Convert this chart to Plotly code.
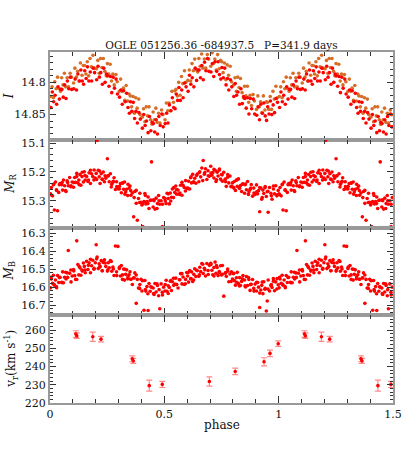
import plotly.graph_objects as go
from plotly.subplots import make_subplots

# ---------------------------------------------------------------- data
# OGLE I-band, two data sets (orange / red)
i1_phase = [
    0.003, 0.009, 0.015, 0.021, 0.027, 0.033, 0.040, 0.046,
    0.051, 0.057, 0.063, 0.069, 0.075, 0.081, 0.088, 0.094,
    0.103, 0.109, 0.115, 0.121, 0.127, 0.133, 0.140, 0.146,
    0.151, 0.157, 0.163, 0.169, 0.175, 0.181, 0.188, 0.194,
    0.203, 0.209, 0.215, 0.221, 0.227, 0.233, 0.240, 0.246,
    0.251, 0.257, 0.263, 0.269, 0.275, 0.281, 0.288, 0.294,
    0.303, 0.309, 0.315, 0.321, 0.327, 0.333, 0.340, 0.346,
    0.351, 0.357, 0.363, 0.369, 0.375, 0.381, 0.388, 0.394,
    0.403, 0.409, 0.415, 0.421, 0.427, 0.433, 0.440, 0.446,
    0.451, 0.457, 0.463, 0.469, 0.475, 0.481, 0.488, 0.494,
    0.503, 0.509, 0.515, 0.521, 0.527, 0.533, 0.540, 0.546,
    0.551, 0.557, 0.563, 0.569, 0.575, 0.581, 0.588, 0.594,
    0.603, 0.609, 0.615, 0.621, 0.627, 0.633, 0.640, 0.646,
    0.651, 0.657, 0.663, 0.669, 0.675, 0.681, 0.688, 0.694,
    0.703, 0.709, 0.715, 0.721, 0.727, 0.733, 0.740, 0.746,
    0.751, 0.757, 0.763, 0.769, 0.775, 0.781, 0.788, 0.794,
    0.803, 0.809, 0.815, 0.821, 0.827, 0.833, 0.840, 0.846,
    0.851, 0.857, 0.863, 0.869, 0.875, 0.881, 0.888, 0.894,
    0.903, 0.909, 0.915, 0.921, 0.927, 0.933, 0.940, 0.946,
    0.951, 0.957, 0.963, 0.969, 0.975, 0.981, 0.988, 0.994,
]
i1_mag = [
    14.822, 14.807, 14.824, 14.799, 14.810, 14.792, 14.810, 14.814,
    14.793, 14.804, 14.786, 14.807, 14.793, 14.807, 14.786, 14.792,
    14.801, 14.778, 14.792, 14.783, 14.798, 14.770, 14.789, 14.774,
    14.774, 14.787, 14.768, 14.790, 14.763, 14.776, 14.758, 14.778,
    14.779, 14.766, 14.786, 14.763, 14.777, 14.763, 14.783, 14.790,
    14.771, 14.787, 14.772, 14.798, 14.787, 14.804, 14.788, 14.799,
    14.814, 14.795, 14.814, 14.809, 14.828, 14.805, 14.829, 14.818,
    14.821, 14.838, 14.822, 14.848, 14.824, 14.840, 14.826, 14.850,
    14.854, 14.841, 14.861, 14.838, 14.852, 14.838, 14.858, 14.865,
    14.846, 14.858, 14.840, 14.862, 14.848, 14.863, 14.843, 14.850,
    14.858, 14.832, 14.844, 14.832, 14.844, 14.814, 14.831, 14.813,
    14.811, 14.821, 14.800, 14.820, 14.791, 14.802, 14.782, 14.800,
    14.797, 14.781, 14.798, 14.771, 14.782, 14.764, 14.781, 14.784,
    14.763, 14.775, 14.756, 14.778, 14.764, 14.778, 14.757, 14.764,
    14.775, 14.754, 14.771, 14.764, 14.781, 14.757, 14.779, 14.766,
    14.768, 14.785, 14.770, 14.796, 14.773, 14.789, 14.775, 14.799,
    14.804, 14.793, 14.814, 14.792, 14.808, 14.794, 14.816, 14.824,
    14.806, 14.821, 14.806, 14.831, 14.820, 14.836, 14.819, 14.829,
    14.842, 14.821, 14.838, 14.830, 14.847, 14.821, 14.843, 14.830,
    14.831, 14.842, 14.822, 14.842, 14.814, 14.826, 14.806, 14.824,
]
i2_phase = [
    0.004, 0.010, 0.016, 0.022, 0.029, 0.035, 0.041, 0.047,
    0.052, 0.058, 0.064, 0.070, 0.076, 0.082, 0.089, 0.095,
    0.104, 0.110, 0.116, 0.122, 0.129, 0.135, 0.141, 0.147,
    0.152, 0.158, 0.164, 0.170, 0.176, 0.182, 0.189, 0.195,
    0.204, 0.210, 0.216, 0.222, 0.229, 0.235, 0.241, 0.247,
    0.252, 0.258, 0.264, 0.270, 0.276, 0.282, 0.289, 0.295,
    0.304, 0.310, 0.316, 0.322, 0.329, 0.335, 0.341, 0.347,
    0.352, 0.358, 0.364, 0.370, 0.376, 0.382, 0.389, 0.395,
    0.404, 0.410, 0.416, 0.422, 0.429, 0.435, 0.441, 0.447,
    0.452, 0.458, 0.464, 0.470, 0.476, 0.482, 0.489, 0.495,
    0.504, 0.510, 0.516, 0.522, 0.529, 0.535, 0.541, 0.547,
    0.552, 0.558, 0.564, 0.570, 0.576, 0.582, 0.589, 0.595,
    0.604, 0.610, 0.616, 0.622, 0.629, 0.635, 0.641, 0.647,
    0.652, 0.658, 0.664, 0.670, 0.676, 0.682, 0.689, 0.695,
    0.704, 0.710, 0.716, 0.722, 0.729, 0.735, 0.741, 0.747,
    0.752, 0.758, 0.764, 0.770, 0.776, 0.782, 0.789, 0.795,
    0.804, 0.810, 0.816, 0.822, 0.829, 0.835, 0.841, 0.847,
    0.852, 0.858, 0.864, 0.870, 0.876, 0.882, 0.889, 0.895,
    0.904, 0.910, 0.916, 0.922, 0.929, 0.935, 0.941, 0.947,
    0.952, 0.958, 0.964, 0.970, 0.976, 0.982, 0.989, 0.995,
]
i2_mag = [
    14.839, 14.815, 14.830, 14.820, 14.834, 14.807, 14.826, 14.811,
    14.811, 14.823, 14.804, 14.825, 14.798, 14.810, 14.792, 14.811,
    14.810, 14.795, 14.812, 14.787, 14.798, 14.781, 14.798, 14.803,
    14.782, 14.794, 14.776, 14.798, 14.784, 14.798, 14.778, 14.785,
    14.796, 14.775, 14.792, 14.785, 14.803, 14.778, 14.800, 14.787,
    14.790, 14.806, 14.791, 14.816, 14.792, 14.809, 14.795, 14.818,
    14.823, 14.812, 14.834, 14.813, 14.830, 14.817, 14.839, 14.848,
    14.830, 14.845, 14.831, 14.856, 14.845, 14.863, 14.847, 14.857,
    14.871, 14.850, 14.867, 14.860, 14.878, 14.853, 14.875, 14.862,
    14.864, 14.877, 14.858, 14.880, 14.853, 14.867, 14.849, 14.869,
    14.864, 14.848, 14.863, 14.835, 14.844, 14.824, 14.839, 14.841,
    14.818, 14.828, 14.808, 14.828, 14.812, 14.824, 14.801, 14.807,
    14.814, 14.789, 14.803, 14.793, 14.807, 14.778, 14.797, 14.781,
    14.781, 14.793, 14.774, 14.796, 14.769, 14.782, 14.763, 14.783,
    14.784, 14.771, 14.791, 14.768, 14.783, 14.768, 14.788, 14.795,
    14.777, 14.793, 14.778, 14.804, 14.794, 14.812, 14.796, 14.807,
    14.822, 14.802, 14.820, 14.815, 14.834, 14.810, 14.833, 14.822,
    14.825, 14.840, 14.824, 14.849, 14.825, 14.841, 14.826, 14.849,
    14.851, 14.838, 14.858, 14.834, 14.848, 14.832, 14.852, 14.859,
    14.838, 14.849, 14.829, 14.850, 14.835, 14.847, 14.825, 14.831,
]

# MACHO R and B (taken together, so they share phases)
rb_phase = [
    0.002, 0.006, 0.011, 0.015, 0.019, 0.024, 0.029, 0.033, 0.038, 0.044,
    0.051, 0.055, 0.059, 0.064, 0.070, 0.075, 0.080, 0.086, 0.091, 0.097,
    0.103, 0.108, 0.112, 0.117, 0.122, 0.126, 0.131, 0.135, 0.140, 0.146,
    0.150, 0.154, 0.160, 0.166, 0.171, 0.177, 0.182, 0.187, 0.193, 0.198,
    0.202, 0.206, 0.211, 0.215, 0.219, 0.224, 0.229, 0.233, 0.238, 0.244,
    0.251, 0.255, 0.259, 0.264, 0.270, 0.275, 0.280, 0.286, 0.291, 0.297,
    0.303, 0.308, 0.312, 0.317, 0.322, 0.326, 0.331, 0.335, 0.340, 0.346,
    0.350, 0.354, 0.360, 0.366, 0.371, 0.377, 0.382, 0.387, 0.393, 0.398,
    0.402, 0.406, 0.411, 0.415, 0.419, 0.424, 0.429, 0.433, 0.438, 0.444,
    0.451, 0.455, 0.459, 0.464, 0.470, 0.475, 0.480, 0.486, 0.491, 0.497,
    0.503, 0.508, 0.512, 0.517, 0.522, 0.526, 0.531, 0.535, 0.540, 0.546,
    0.550, 0.554, 0.560, 0.566, 0.571, 0.577, 0.582, 0.587, 0.593, 0.598,
    0.602, 0.606, 0.611, 0.615, 0.619, 0.624, 0.629, 0.633, 0.638, 0.644,
    0.651, 0.655, 0.659, 0.664, 0.670, 0.675, 0.680, 0.686, 0.691, 0.697,
    0.703, 0.708, 0.712, 0.717, 0.722, 0.726, 0.731, 0.735, 0.740, 0.746,
    0.750, 0.754, 0.760, 0.766, 0.771, 0.777, 0.782, 0.787, 0.793, 0.798,
    0.802, 0.806, 0.811, 0.815, 0.819, 0.824, 0.829, 0.833, 0.838, 0.844,
    0.851, 0.855, 0.859, 0.864, 0.870, 0.875, 0.880, 0.886, 0.891, 0.897,
    0.903, 0.908, 0.912, 0.917, 0.922, 0.926, 0.931, 0.935, 0.940, 0.946,
    0.950, 0.954, 0.960, 0.966, 0.971, 0.977, 0.982, 0.987, 0.993, 0.998,
    # second season
    0.004, 0.017, 0.028, 0.041, 0.053, 0.068, 0.077, 0.092,
    0.104, 0.117, 0.128, 0.141, 0.153, 0.168, 0.177, 0.192,
    0.204, 0.217, 0.228, 0.241, 0.253, 0.268, 0.277, 0.292,
    0.304, 0.317, 0.328, 0.341, 0.353, 0.368, 0.377, 0.392,
    0.404, 0.417, 0.428, 0.441, 0.453, 0.468, 0.477, 0.492,
    0.504, 0.517, 0.528, 0.541, 0.553, 0.568, 0.577, 0.592,
    0.604, 0.617, 0.628, 0.641, 0.653, 0.668, 0.677, 0.692,
    0.704, 0.717, 0.728, 0.741, 0.753, 0.768, 0.777, 0.792,
    0.804, 0.817, 0.828, 0.841, 0.853, 0.868, 0.877, 0.892,
    0.904, 0.917, 0.928, 0.941, 0.953, 0.968, 0.977, 0.992,
]
mr = [
    15.276, 15.254, 15.283, 15.244, 15.332, 15.235, 15.264, 15.335, 15.271, 15.240,
    15.244, 15.263, 15.228, 15.248, 15.268, 15.231, 15.248, 15.219, 15.251, 15.235,
    15.253, 15.219, 15.236, 15.205, 15.238, 15.228, 15.209, 15.246, 15.216, 15.235,
    15.199, 15.228, 15.216, 15.233, 15.203, 15.240, 15.206, 15.216, 15.193, 15.221,
    15.205, 15.090, 15.194, 15.217, 15.240, 15.206, 15.226, 15.200, 15.234, 15.222,
    15.154, 15.213, 15.234, 15.206, 15.243, 15.236, 15.220, 15.261, 15.234, 15.258,
    15.259, 15.240, 15.272, 15.238, 15.260, 15.235, 15.269, 15.260, 15.282, 15.256,
    15.249, 15.281, 15.273, 15.356, 15.268, 15.309, 15.368, 15.292, 15.274, 15.305,
    15.315, 15.390, 15.303, 15.275, 15.311, 15.303, 15.287, 15.327, 15.299, 15.165,
    15.322, 15.300, 15.329, 15.291, 15.310, 15.282, 15.312, 15.300, 15.390, 15.289,
    15.292, 15.310, 15.274, 15.292, 15.311, 15.273, 15.288, 15.259, 15.289, 15.271,
    15.249, 15.277, 15.263, 15.278, 15.246, 15.281, 15.246, 15.254, 15.230, 15.257,
    15.256, 15.232, 15.259, 15.220, 15.238, 15.208, 15.236, 15.222, 15.239, 15.207,
    15.234, 15.199, 15.217, 15.186, 15.160, 15.208, 15.189, 15.226, 15.196, 15.215,
    15.180, 15.211, 15.202, 15.221, 15.194, 15.233, 15.201, 15.214, 15.194, 15.225,
    15.209, 15.232, 15.201, 15.225, 15.250, 15.218, 15.238, 15.214, 15.250, 15.238,
    15.253, 15.233, 15.264, 15.229, 15.250, 15.224, 15.257, 15.247, 15.268, 15.241,
    15.274, 15.242, 15.262, 15.233, 15.269, 15.261, 15.244, 15.284, 15.256, 15.278,
    15.245, 15.276, 15.265, 15.338, 15.256, 15.295, 15.263, 15.275, 15.255, 15.285,
    15.269, 15.340, 15.254, 15.274, 15.295, 15.259, 15.276, 15.248, 15.279, 15.264,
    # second season
    15.279, 15.242, 15.262, 15.244, 15.237, 15.265, 15.237, 15.248,
    15.237, 15.216, 15.244, 15.201, 15.212, 15.228, 15.194, 15.228,
    15.226, 15.197, 15.225, 15.213, 15.214, 15.252, 15.232, 15.251,
    15.250, 15.239, 15.277, 15.243, 15.265, 15.289, 15.264, 15.306,
    15.311, 15.282, 15.310, 15.298, 15.297, 15.327, 15.300, 15.312,
    15.301, 15.276, 15.301, 15.254, 15.261, 15.273, 15.236, 15.266,
    15.258, 15.217, 15.234, 15.212, 15.202, 15.230, 15.202, 15.213,
    15.204, 15.191, 15.227, 15.190, 15.210, 15.234, 15.209, 15.251,
    15.256, 15.227, 15.255, 15.243, 15.244, 15.278, 15.257, 15.273,
    15.269, 15.254, 15.289, 15.251, 15.267, 15.283, 15.249, 15.283,
]
mb = [
    16.604, 16.555, 16.579, 16.534, 16.589, 16.560, 16.603, 16.535, 16.574, 16.545,
    16.573, 16.515, 16.576, 16.545, 16.555, 16.521, 16.397, 16.523, 16.505, 16.538,
    16.503, 16.536, 16.557, 16.343, 16.475, 16.532, 16.493, 16.534, 16.505, 16.466,
    16.485, 16.520, 16.457, 16.502, 16.465, 16.520, 16.481, 16.451, 16.495, 16.465,
    16.365, 16.433, 16.497, 16.470, 16.484, 16.453, 16.509, 16.463, 16.448, 16.485,
    16.511, 16.465, 16.493, 16.452, 16.512, 16.488, 16.535, 16.372, 16.515, 16.374,
    16.497, 16.538, 16.480, 16.532, 16.500, 16.561, 16.529, 16.504, 16.554, 16.531,
    16.515, 16.556, 16.585, 16.548, 16.521, 16.690, 16.557, 16.605, 16.586, 16.556,
    16.621, 16.755, 16.728, 16.563, 16.622, 16.597, 16.730, 16.580, 16.623, 16.600,
    16.605, 16.641, 16.580, 16.627, 16.591, 16.648, 16.720, 16.582, 16.628, 16.600,
    16.621, 16.562, 16.623, 16.592, 16.602, 16.567, 16.619, 16.570, 16.551, 16.583,
    16.550, 16.585, 16.605, 16.559, 16.525, 16.582, 16.544, 16.585, 16.557, 16.519,
    16.538, 16.572, 16.508, 16.553, 16.515, 16.569, 16.529, 16.498, 16.541, 16.509,
    16.540, 16.490, 16.514, 16.469, 16.524, 16.495, 16.538, 16.469, 16.508, 16.479,
    16.467, 16.506, 16.531, 16.491, 16.461, 16.523, 16.491, 16.536, 16.513, 16.481,
    16.533, 16.480, 16.650, 16.523, 16.540, 16.512, 16.570, 16.527, 16.515, 16.555,
    16.526, 16.564, 16.589, 16.548, 16.518, 16.580, 16.547, 16.591, 16.568, 16.536,
    16.560, 16.599, 16.541, 16.591, 16.558, 16.618, 16.584, 16.558, 16.607, 16.583,
    16.621, 16.574, 16.600, 16.713, 16.616, 16.590, 16.636, 16.570, 16.612, 16.732,
    16.677, 16.560, 16.621, 16.591, 16.602, 16.567, 16.620, 16.571, 16.553, 16.587,
    # second season
    16.546, 16.584, 16.597, 16.547, 16.575, 16.517, 16.546, 16.571,
    16.510, 16.558, 16.486, 16.511, 16.505, 16.479, 16.445, 16.501,
    16.443, 16.489, 16.509, 16.466, 16.504, 16.458, 16.499, 16.536,
    16.489, 16.557, 16.501, 16.542, 16.556, 16.549, 16.533, 16.607,
    16.564, 16.614, 16.637, 16.598, 16.636, 16.582, 16.614, 16.643,
    16.585, 16.635, 16.564, 16.590, 16.585, 16.559, 16.525, 16.581,
    16.519, 16.553, 16.560, 16.506, 16.531, 16.473, 16.504, 16.530,
    16.474, 16.538, 16.480, 16.519, 16.529, 16.519, 16.499, 16.569,
    16.523, 16.573, 16.594, 16.554, 16.593, 16.547, 16.586, 16.622,
    16.573, 16.633, 16.572, 16.607, 16.611, 16.585, 16.553, 16.610,
]

# radial velocities (km/s)
rv_phase = [0.113, 0.117, 0.187, 0.223, 0.360, 0.364, 0.434, 0.491,
            0.697, 0.810, 0.936, 0.962, 0.998]
rv = [257.8, 256.9, 256.3, 255.0, 244.2, 243.1, 229.5, 230.2,
      231.8, 237.3, 242.6, 247.2, 252.5]
rv_err = [1.8, 1.5, 2.5, 1.5, 1.6, 1.4, 3.0, 1.7, 2.5, 1.8, 2.2, 1.8, 1.5]

x_ticks = [0, 0.5, 1, 1.5]
x_labels = ["0", "0.5", "1", "1.5"]
i_ticks = [14.8, 14.85]
r_ticks = [15.1, 15.2, 15.3]
b_ticks = [16.3, 16.4, 16.5, 16.6, 16.7]
v_ticks = [220, 230, 240, 250, 260]

TITLE = "OGLE 051256.36 -684937.5\u00a0\u00a0\u00a0P=341.9 days"

RED = "#FF0000"
ORANGE = "#D66E28"
AXIS = "#999999"
TICK = "#333333"
FONT = "DejaVu Serif"
MSIZE = 3.6


def fold(phase, vals, upto=1.5):
    """repeat the phase curve so it runs 0 .. 1.5"""
    xs = list(phase) + [p + 1 for p in phase if p + 1 <= upto]
    ys = list(vals) + [v for p, v in zip(phase, vals) if p + 1 <= upto]
    return xs, ys


# ---------------------------------------------------------------- figure
fig = make_subplots(rows=4, cols=1, shared_xaxes=True, vertical_spacing=0)

mk = dict(mode="markers", showlegend=False, hoverinfo="skip")

x, y = fold(i1_phase, i1_mag)
fig.add_trace(go.Scatter(x=x, y=y, marker=dict(color=ORANGE, size=MSIZE), **mk), row=1, col=1)
x, y = fold(i2_phase, i2_mag)
fig.add_trace(go.Scatter(x=x, y=y, marker=dict(color=RED, size=MSIZE), **mk), row=1, col=1)
x, y = fold(rb_phase, mr)
fig.add_trace(go.Scatter(x=x, y=y, marker=dict(color=RED, size=MSIZE), **mk), row=2, col=1)
x, y = fold(rb_phase, mb)
fig.add_trace(go.Scatter(x=x, y=y, marker=dict(color=RED, size=MSIZE), **mk), row=3, col=1)
x, y = fold(rv_phase, rv)
_, e = fold(rv_phase, rv_err)
fig.add_trace(go.Scatter(
    x=x, y=y, marker=dict(color=RED, size=MSIZE),
    error_y=dict(type="data", array=e, color="rgba(255,40,40,0.55)",
                 thickness=1.2, width=3),
    **mk), row=4, col=1)

axis_common = dict(
    showline=True, linecolor=AXIS, linewidth=2, mirror="allticks",
    ticks="inside", tickcolor=TICK, tickwidth=1, showgrid=False, zeroline=False,
    automargin=False,
    tickfont=dict(family=FONT, size=11, color="#111111"),
)

for r in range(1, 5):
    fig.update_xaxes(
        range=[0, 1.5], tickmode="array", tickvals=x_ticks, ticktext=x_labels,
        ticklen=7, showticklabels=(r == 4),
        minor=dict(ticks="inside", ticklen=4, tickcolor=TICK, dtick=0.1, tick0=0,
                   showgrid=False),
        row=r, col=1, **axis_common,
    )

y_specs = [
    ([14.889, 14.753], i_ticks, 0.01),
    ([15.393, 15.088], r_ticks, 0.02),
    ([16.756, 16.269], b_ticks, 0.02),
    ([220, 268.1], v_ticks, 2),
]
for r, (rng, tv, mdt) in enumerate(y_specs, start=1):
    fig.update_yaxes(
        range=rng, tickmode="array", tickvals=tv, ticktext=[f"{t:g}" for t in tv],
        ticklen=6,
        minor=dict(ticks="inside", ticklen=3, tickcolor=TICK, dtick=mdt,
                   tick0=tv[0], showgrid=False),
        row=r, col=1, **axis_common,
    )

# y titles as annotations so they line up like the original
y_titles = [
    ("<i>I</i>", -0.121),
    ("<i>M</i><sub>R</sub>", -0.116),
    ("<i>M</i><sub>B</sub>", -0.116),
    ("v<sub>r</sub>(km s<sup>-1</sup>)", -0.112),
]
for r, (txt, xp) in enumerate(y_titles, start=1):
    yname = "y" if r == 1 else f"y{r}"
    fig.add_annotation(
        text=txt, xref="paper", x=xp, yref=f"{yname} domain", y=0.5,
        textangle=-90, showarrow=False, xanchor="center", yanchor="middle",
        font=dict(family=FONT, size=12, color="#111111"),
    )

fig.add_annotation(
    text="phase", xref="paper", x=0.5, yref="paper", y=-0.064,
    showarrow=False, xanchor="center", yanchor="middle",
    font=dict(family=FONT, size=12, color="#111111"),
)

fig.update_layout(
    width=415, height=457,
    margin=dict(l=50, r=22, t=52, b=54, autoexpand=False),
    paper_bgcolor="white", plot_bgcolor="white",
    title=dict(text=TITLE, x=0.5, xref="paper", xanchor="center",
               y=1 - 45 / 457, yref="container", yanchor="middle",
               font=dict(family=FONT, size=10.5, color="#111111")),
    font=dict(family=FONT),
    showlegend=False,
)

# drop the browser's default body margin so the figure sits at the page corner
fig.write_html(
    "out.html",
    config={"displayModeBar": False},
    post_script="document.body.style.margin = '0';",
)
